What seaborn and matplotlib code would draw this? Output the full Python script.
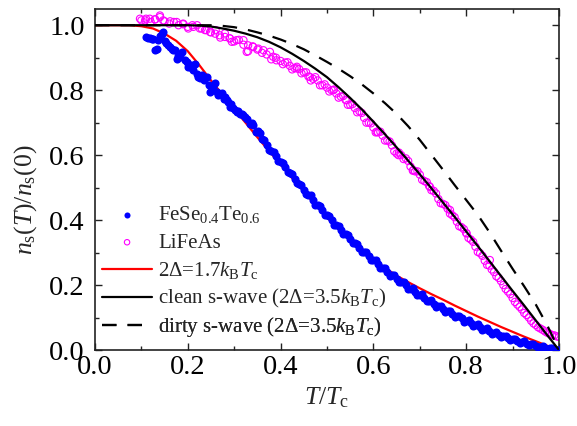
import numpy as np
import pandas as pd
import matplotlib
matplotlib.use("Agg")
import matplotlib.pyplot as plt
import seaborn as sns
from matplotlib.ticker import MultipleLocator

# FeSe0.4Te0.6 data (T/Tc, ns/ns0)
fese_t = [0.111, 0.119, 0.126, 0.136, 0.140, 0.144, 0.147, 0.133, 0.129, 0.154,
          0.162, 0.165, 0.172, 0.176, 0.183, 0.187, 0.198, 0.201, 0.208, 0.216,
          0.223, 0.230, 0.241, 0.248, 0.255, 0.259, 0.266, 0.273, 0.280, 0.287,
          0.291, 0.298, 0.305, 0.312, 0.320, 0.323, 0.334, 0.341, 0.348, 0.356,
          0.115, 0.123, 0.150, 0.158, 0.169, 0.180, 0.193, 0.205, 0.212, 0.220,
          0.227, 0.235, 0.245, 0.252, 0.262, 0.270, 0.277, 0.284, 0.294, 0.302,
          0.309, 0.316, 0.328, 0.338, 0.352,
          0.360, 0.370, 0.380, 0.390, 0.400, 0.410, 0.420, 0.430, 0.440, 0.450,
          0.460, 0.470, 0.480, 0.490, 0.500, 0.510, 0.520, 0.530, 0.540, 0.550,
          0.560, 0.570, 0.580, 0.590, 0.600, 0.610, 0.620, 0.630, 0.640, 0.650,
          0.660, 0.670, 0.680, 0.690, 0.700, 0.710, 0.720, 0.730, 0.740, 0.750,
          0.760, 0.770, 0.780, 0.790, 0.800, 0.810, 0.820, 0.830, 0.840, 0.850,
          0.860, 0.870, 0.880, 0.890, 0.900, 0.910, 0.920, 0.930, 0.940, 0.950,
          0.960, 0.970, 0.980, 0.990, 1.000,
          0.365, 0.375, 0.385, 0.395, 0.405, 0.415, 0.425, 0.435, 0.445, 0.455,
          0.465, 0.475, 0.485, 0.495, 0.505, 0.515, 0.525, 0.535, 0.545, 0.555,
          0.565, 0.575, 0.585, 0.595, 0.605, 0.615, 0.625, 0.635, 0.645, 0.655,
          0.665, 0.675, 0.685, 0.695, 0.705, 0.715, 0.725, 0.735, 0.745, 0.755,
          0.765, 0.775, 0.785, 0.795, 0.805, 0.815, 0.825, 0.835, 0.845, 0.855,
          0.865, 0.875, 0.885, 0.895, 0.905, 0.915, 0.925, 0.935, 0.945, 0.955,
          0.965, 0.975, 0.985, 0.995]
fese_ns = [0.964, 0.961, 0.957, 0.954, 0.967, 0.974, 0.979, 0.928, 0.923, 0.944,
           0.933, 0.928, 0.923, 0.897, 0.902, 0.918, 0.887, 0.872, 0.877, 0.882,
           0.841, 0.846, 0.841, 0.795, 0.810, 0.821, 0.785, 0.790, 0.780, 0.764,
           0.749, 0.744, 0.733, 0.728, 0.723, 0.718, 0.697, 0.692, 0.672, 0.667,
           0.962, 0.958, 0.950, 0.938, 0.925, 0.905, 0.892, 0.870, 0.862, 0.850,
           0.838, 0.830, 0.815, 0.800, 0.795, 0.788, 0.772, 0.770, 0.757, 0.740,
           0.736, 0.726, 0.712, 0.700, 0.675,
           0.650, 0.632, 0.614, 0.596, 0.580, 0.562, 0.545, 0.528, 0.511, 0.494,
           0.478, 0.462, 0.446, 0.430, 0.415, 0.400, 0.385, 0.370, 0.356, 0.342,
           0.328, 0.315, 0.302, 0.289, 0.277, 0.265, 0.253, 0.241, 0.230, 0.219,
           0.209, 0.199, 0.189, 0.179, 0.170, 0.161, 0.152, 0.143, 0.135, 0.127,
           0.119, 0.111, 0.104, 0.097, 0.090, 0.083, 0.077, 0.070, 0.064, 0.058,
           0.053, 0.047, 0.042, 0.037, 0.033, 0.028, 0.024, 0.020, 0.017, 0.013,
           0.010, 0.007, 0.005, 0.002, 0.000,
           0.647, 0.617, 0.611, 0.582, 0.577, 0.548, 0.542, 0.514, 0.508, 0.480,
           0.476, 0.448, 0.444, 0.417, 0.413, 0.386, 0.383, 0.357, 0.355, 0.329,
           0.327, 0.302, 0.301, 0.277, 0.277, 0.253, 0.253, 0.229, 0.230, 0.208,
           0.210, 0.188, 0.190, 0.168, 0.171, 0.150, 0.153, 0.133, 0.137, 0.117,
           0.121, 0.101, 0.106, 0.087, 0.092, 0.074, 0.079, 0.061, 0.067, 0.049,
           0.056, 0.040, 0.044, 0.030, 0.035, 0.021, 0.027, 0.014, 0.019, 0.008,
           0.012, 0.003, 0.006, 0.001]

# LiFeAs data
lifeas_t = [0.100, 0.110, 0.120, 0.130, 0.140, 0.150, 0.160, 0.170, 0.180, 0.190,
            0.200, 0.210, 0.220, 0.230, 0.240, 0.250, 0.260, 0.270, 0.280, 0.290,
            0.300, 0.310, 0.320, 0.330, 0.340, 0.350, 0.360, 0.370, 0.380, 0.390,
            0.400, 0.410, 0.420, 0.430, 0.440, 0.450, 0.460, 0.470, 0.480, 0.490,
            0.500, 0.510, 0.520, 0.530, 0.540, 0.550, 0.560, 0.570, 0.580, 0.590,
            0.600, 0.610, 0.620, 0.630, 0.640, 0.650, 0.660, 0.670, 0.680, 0.690,
            0.700, 0.710, 0.720, 0.730, 0.740, 0.750, 0.760, 0.770, 0.780, 0.790,
            0.800, 0.810, 0.820, 0.830, 0.840, 0.850, 0.860, 0.870, 0.880, 0.890,
            0.900, 0.910, 0.920, 0.930, 0.940, 0.950, 0.960, 0.970, 0.980, 0.990,
            1.000,
            0.097, 0.108, 0.118, 0.129, 0.140, 0.147, 0.162, 0.176, 0.190, 0.201,
            0.212, 0.226, 0.237, 0.248, 0.259, 0.269, 0.280, 0.291, 0.305, 0.320,
            0.330, 0.341, 0.352, 0.363, 0.377, 0.384, 0.391, 0.295, 0.327, 0.435,
            0.463, 0.514, 0.542, 0.607, 0.654, 0.686, 0.722, 0.765, 0.801, 0.851,
            0.845, 0.855, 0.865, 0.875, 0.885, 0.895, 0.905, 0.915, 0.925, 0.935,
            0.945, 0.955, 0.965, 0.975, 0.985, 0.995,
            0.405, 0.415, 0.425, 0.435, 0.445, 0.455, 0.465, 0.475, 0.485, 0.495,
            0.505, 0.515, 0.525, 0.535, 0.545, 0.555, 0.565, 0.575, 0.585, 0.595,
            0.605, 0.615, 0.625, 0.635, 0.645, 0.655, 0.665, 0.675, 0.685, 0.695,
            0.705, 0.715, 0.725, 0.735, 0.745, 0.755, 0.765, 0.775, 0.785, 0.795,
            0.805, 0.815, 0.825, 0.835]
lifeas_ns = [1.015, 1.020, 1.010, 1.018, 1.025, 1.012, 1.005, 1.010, 1.000, 1.003,
             0.995, 1.000, 1.000, 0.990, 0.985, 0.978, 0.985, 0.962, 0.975, 0.960,
             0.950, 0.955, 0.940, 0.920, 0.935, 0.925, 0.915, 0.910, 0.895, 0.900,
             0.890, 0.885, 0.875, 0.868, 0.865, 0.855, 0.842, 0.835, 0.830, 0.815,
             0.808, 0.800, 0.790, 0.780, 0.770, 0.755, 0.745, 0.735, 0.715, 0.700,
             0.685, 0.670, 0.660, 0.645, 0.630, 0.605, 0.600, 0.590, 0.565, 0.550,
             0.540, 0.520, 0.505, 0.490, 0.465, 0.450, 0.435, 0.415, 0.395, 0.378,
             0.360, 0.340, 0.318, 0.298, 0.275, 0.260, 0.240, 0.222, 0.200, 0.180,
             0.160, 0.140, 0.125, 0.108, 0.090, 0.077, 0.066, 0.057, 0.050, 0.045,
             0.040,
             1.020, 1.015, 1.020, 1.018, 1.030, 1.015, 1.012, 1.010, 1.005, 0.990,
             0.995, 0.990, 0.985, 0.979, 0.974, 0.969, 0.964, 0.959, 0.954, 0.954,
             0.938, 0.933, 0.928, 0.923, 0.918, 0.903, 0.892, 0.949, 0.918, 0.867,
             0.841, 0.800, 0.769, 0.672, 0.600, 0.554, 0.502, 0.431, 0.359, 0.277,
             0.262, 0.248, 0.227, 0.212, 0.188, 0.172, 0.148, 0.133, 0.114, 0.100,
             0.082, 0.070, 0.062, 0.053, 0.046, 0.042,
             0.880, 0.886, 0.864, 0.872, 0.852, 0.855, 0.830, 0.840, 0.815, 0.818,
             0.796, 0.802, 0.777, 0.782, 0.755, 0.757, 0.732, 0.730, 0.700, 0.698,
             0.670, 0.672, 0.645, 0.642, 0.612, 0.608, 0.588, 0.582, 0.552, 0.550,
             0.524, 0.517, 0.492, 0.482, 0.452, 0.446, 0.420, 0.409, 0.381, 0.372,
             0.345, 0.333, 0.302, 0.290]

# model curves
line_t = [0.000, 0.025, 0.050, 0.075, 0.100, 0.125, 0.150, 0.175, 0.200, 0.225,
          0.250, 0.275, 0.300, 0.325, 0.350, 0.375, 0.400, 0.425, 0.450, 0.475,
          0.500, 0.525, 0.550, 0.575, 0.600, 0.625, 0.650, 0.675, 0.700, 0.725,
          0.750, 0.775, 0.800, 0.825, 0.850, 0.875, 0.900, 0.925, 0.950, 0.975,
          1.000]
red_ns = [1.000, 1.000, 1.000, 1.000, 0.997, 0.990, 0.974, 0.952, 0.920, 0.877,
          0.830, 0.786, 0.742, 0.699, 0.655, 0.613, 0.571, 0.529, 0.488, 0.447,
          0.408, 0.373, 0.341, 0.310, 0.280, 0.253, 0.229, 0.209, 0.190, 0.172,
          0.155, 0.137, 0.120, 0.103, 0.087, 0.071, 0.056, 0.041, 0.027, 0.013,
          0.000]
clean_ns = [1.000, 1.000, 1.000, 1.000, 1.000, 1.000, 1.000, 1.000, 1.000, 0.999,
            0.996, 0.990, 0.983, 0.974, 0.963, 0.949, 0.932, 0.912, 0.890, 0.866,
            0.840, 0.809, 0.776, 0.741, 0.703, 0.664, 0.624, 0.583, 0.541, 0.498,
            0.454, 0.410, 0.365, 0.320, 0.274, 0.228, 0.182, 0.137, 0.091, 0.045,
            0.000]
dirty_ns = [1.000, 1.000, 1.000, 1.000, 1.000, 1.000, 1.000, 1.000, 1.000, 1.000,
            1.000, 0.998, 0.994, 0.987, 0.978, 0.968, 0.956, 0.942, 0.926, 0.907,
            0.887, 0.866, 0.843, 0.818, 0.790, 0.760, 0.727, 0.689, 0.647, 0.601,
            0.555, 0.508, 0.462, 0.416, 0.363, 0.306, 0.250, 0.196, 0.140, 0.075,
            0.000]

fese = pd.DataFrame({"t": fese_t, "ns": fese_ns})
lifeas = pd.DataFrame({"t": lifeas_t, "ns": lifeas_ns})

sns.set_style("ticks")
plt.rcParams["font.family"] = ["Liberation Serif", "DejaVu Serif"]
plt.rcParams["mathtext.fontset"] = "custom"
plt.rcParams["mathtext.rm"] = "Liberation Serif"
plt.rcParams["mathtext.it"] = "Liberation Serif:italic"
plt.rcParams["mathtext.bf"] = "Liberation Serif:bold"

fig = plt.figure(figsize=(5.77, 4.26), dpi=100)
ax = fig.add_axes([0.1646, 0.1784, 0.8042, 0.8005])

sns.scatterplot(data=fese, x="t", y="ns", ax=ax, color="#0000FF", edgecolor="#0000FF",
                s=34, linewidth=0, marker="o", zorder=3,
                label=r"FeSe$_{0.4}$Te$_{0.6}$")
sns.scatterplot(data=lifeas, x="t", y="ns", ax=ax, facecolor="none", edgecolor="#FF00FF",
                s=27, linewidth=0.8, marker="o", zorder=2, label="LiFeAs")
sns.lineplot(x=line_t, y=red_ns, ax=ax, color="#FF0000", lw=1.6, zorder=2.5,
             label=r"2Δ=1.7$k_{\rm B}T_{\rm c}$")
sns.lineplot(x=line_t, y=clean_ns, ax=ax, color="black", lw=1.6, zorder=4,
             label=r"clean s-wave (2Δ=3.5$k_{\rm B}T_{\rm c}$)")
sns.lineplot(x=line_t, y=dirty_ns, ax=ax, color="black", lw=1.6, zorder=4,
             label=r"dirty s-wave (2Δ=3.5$k_{\rm B}T_{\rm c}$)")
ax.lines[-1].set_dashes((6.5, 5))

ax.set_xlim(0, 1.0)
ax.set_ylim(0, 1.05)
ax.xaxis.set_major_locator(MultipleLocator(0.2))
ax.xaxis.set_minor_locator(MultipleLocator(0.1))
ax.yaxis.set_major_locator(MultipleLocator(0.2))
ax.yaxis.set_minor_locator(MultipleLocator(0.1))
ax.xaxis.set_major_formatter(lambda v, p: f"{v:.1f}")
ax.yaxis.set_major_formatter(lambda v, p: f"{v:.1f}")
ax.tick_params(which="both", direction="in", top=True, right=True,
               width=1.0, labelsize=20.5, colors="#222222", labelcolor="black")
ax.tick_params(axis="x", pad=3.5)
ax.tick_params(axis="y", pad=7.5)
ax.tick_params(which="major", length=5)
ax.tick_params(which="minor", length=3)
for sp in ax.spines.values():
    sp.set_linewidth(1.2)
    sp.set_color("#222222")

ax.set_xlabel(r"$T/T_{\rm c}$", fontsize=18.5, labelpad=4)
ax.set_ylabel(r"$n_{\rm s}(T)/n_{\rm s}(0)$", fontsize=18.5)
ax.yaxis.set_label_coords(-0.12, 0.44)

# one legend row per entry so the rows sit evenly spaced, as in the original
handles, labels = ax.get_legend_handles_labels()
row_y = [0.396, 0.314, 0.233, 0.150, 0.067]
for h, lab, yy in zip(handles, labels, row_y):
    leg = ax.legend([h], [lab], loc="center left", bbox_to_anchor=(0.0, yy),
                    frameon=False, fontsize=15, handlelength=2.4, handletextpad=0.3,
                    borderaxespad=0.0, borderpad=0.34, markerscale=0.75)
    ax.add_artist(leg)

fig.savefig("out.png", dpi=100)
